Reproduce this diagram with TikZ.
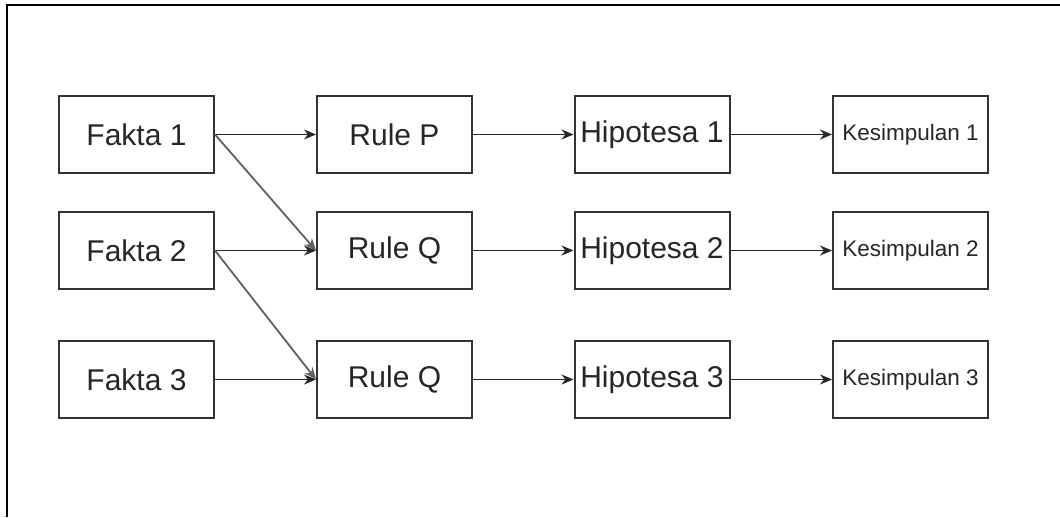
\documentclass[tikz,border=0pt]{standalone}
\usepackage{fontspec}
\setmainfont{Liberation Sans}
\usetikzlibrary{arrows.meta}
\definecolor{boxline}{HTML}{333333}
\definecolor{slant}{HTML}{606060}
\tikzset{
  stepbox/.style={draw=boxline, line width=2pt, minimum width=155pt, minimum height=77pt,
    inner sep=0pt, text=black!85, font=\fontsize{30}{36}\selectfont},
  endbox/.style={stepbox, font=\fontsize{22.5}{27}\selectfont},
  flow/.style={draw=black!85, line width=1.8pt, -{Stealth[length=12pt,width=10pt]}},
  cross/.style={flow, draw=slant}
}
\begin{document}
\begin{tikzpicture}[x=1pt,y=-1pt]
  \useasboundingbox (0,0) rectangle (1060,517);
  % outer frame (top and left edges)
  \draw[line width=2.2pt, black] (7,517) -- (7,5) -- (1060,5);

  % facts
  \node[stepbox] (f1) at (136.5,134.5) {Fakta 1};
  \node[stepbox] (f2) at (136.5,250.5) {Fakta 2};
  \node[stepbox] (f3) at (136.5,379.5) {Fakta 3};
  % rules
  \node[stepbox] (r1) at (394.5,134.5) {Rule P};
  \node[stepbox] (r2) at (394.5,250.5) {Rule Q};
  \node[stepbox] (r3) at (394.5,379.5) {Rule Q};
  % hypotheses
  \node[stepbox] (h1) at (652,134.5) {Hipotesa 1};
  \node[stepbox] (h2) at (652,250.5) {Hipotesa 2};
  \node[stepbox] (h3) at (652,379.5) {Hipotesa 3};
  % conclusions
  \node[endbox] (k1) at (910.5,134.5) {Kesimpulan 1};
  \node[endbox] (k2) at (910.5,250.5) {Kesimpulan 2};
  \node[endbox] (k3) at (910.5,379.5) {Kesimpulan 3};

  % straight flow along each row
  \draw[flow] (f1.east) -- (r1.west);
  \draw[flow] (f2.east) -- (r2.west);
  \draw[flow] (f3.east) -- (r3.west);
  \draw[flow] (r1.east) -- (h1.west);
  \draw[flow] (r2.east) -- (h2.west);
  \draw[flow] (r3.east) -- (h3.west);
  \draw[flow] (h1.east) -- (k1.west);
  \draw[flow] (h2.east) -- (k2.west);
  \draw[flow] (h3.east) -- (k3.west);
  % facts feeding the next rule down
  \draw[cross] (f1.east) -- (r2.west);
  \draw[cross] (f2.east) -- (r3.west);
\end{tikzpicture}
\end{document}
